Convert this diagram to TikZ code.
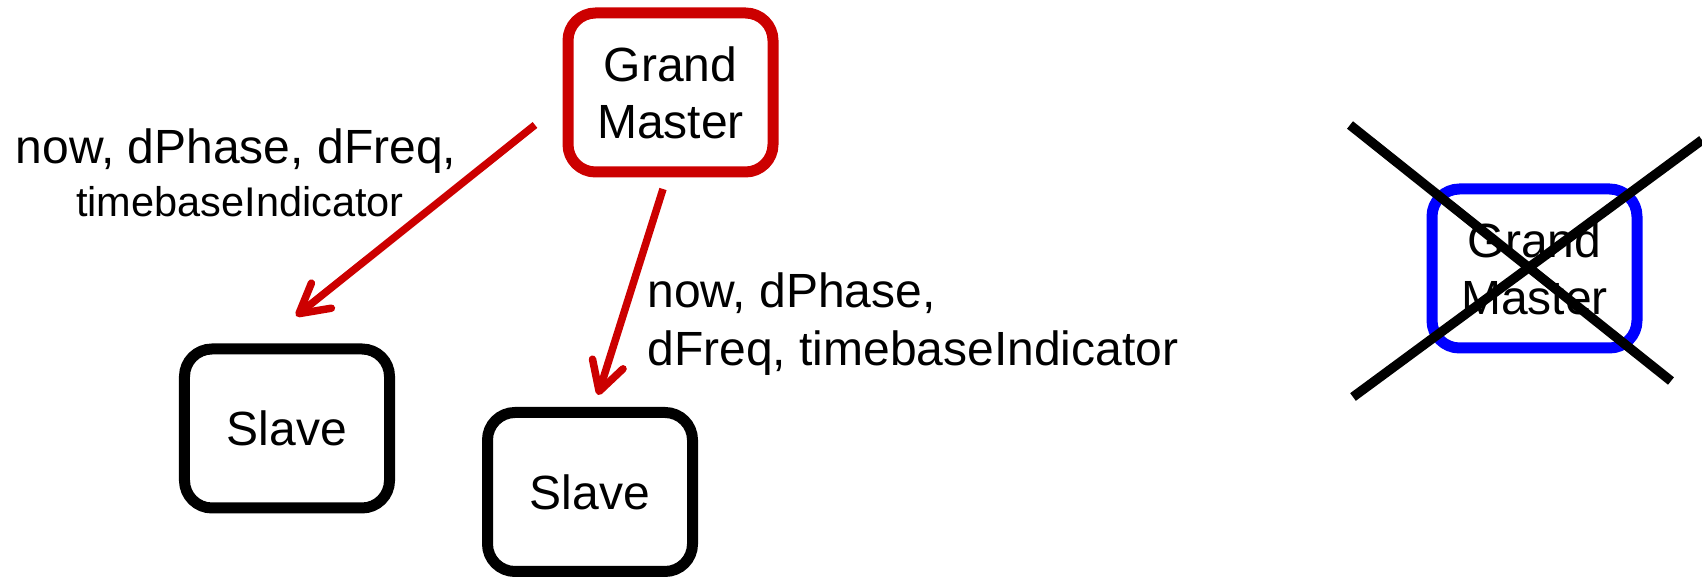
\documentclass[tikz,border=0pt]{standalone}
\usepackage{fontspec}
\setmainfont{Liberation Sans}
\usetikzlibrary{arrows.meta}
\definecolor{gmred}{HTML}{CC0000}
\definecolor{gmblue}{HTML}{0000FF}
\begin{document}
\begin{tikzpicture}[x=0.4pt,y=-0.4pt,
  box/.style={draw, line width=4.4pt, rounded corners=11pt, minimum width=82pt,
    minimum height=63.6pt, inner sep=0pt, align=center,
    font=\fontsize{19.2}{22.8}\selectfont},
  lbl/.style={font=\fontsize{19.2}{22.8}\selectfont, inner sep=0pt},
  lblsmall/.style={font=\fontsize{16.6}{19}\selectfont, inner sep=0pt},
  arr/.style={draw=gmred, line width=3pt, line cap=butt,
    -{Straight Barb[length=11.5pt,width=12.8pt,round]}},
  cross/.style={draw=black, line width=3.8pt}]
\useasboundingbox (0,0) rectangle (1702,577);
% boxes
\node[box, draw=gmred] (gm) at (670.5,92.5) {Grand\\Master};
\node[box] (s1) at (287,428.5) {Slave};
\node[box] (s2) at (590,492) {Slave};
\node[box, draw=gmblue] (gm2) at (1534.5,268.5) {Grand\\Master};
% arrows
\coordinate (a1s) at (535,125);
\coordinate (a1e) at (296,316);
\coordinate (a2s) at (663,189);
\coordinate (a2e) at (598,395);
\draw[arr] (a1s) -- (a1e);
\draw[arr] (a2s) -- (a2e);
% labels
\node[lbl, anchor=base] (l1a) at (236,164) {now, dPhase, dFreq,};
\node[lblsmall, anchor=base] (l1b) at (240,217) {timebaseIndicator};
\node[lbl, anchor=base west] (l2a) at (647,308) {now, dPhase,};
\node[lbl, anchor=base west] (l2b) at (647,366) {dFreq, timebaseIndicator};
% cross
\coordinate (x1a) at (1350,125);
\coordinate (x1b) at (1671,381);
\coordinate (x2a) at (1353,397);
\coordinate (x2b) at (1702,140);
\draw[cross] (x1a) -- (x1b);
\draw[cross] (x2a) -- (x2b);
\end{tikzpicture}
\end{document}
